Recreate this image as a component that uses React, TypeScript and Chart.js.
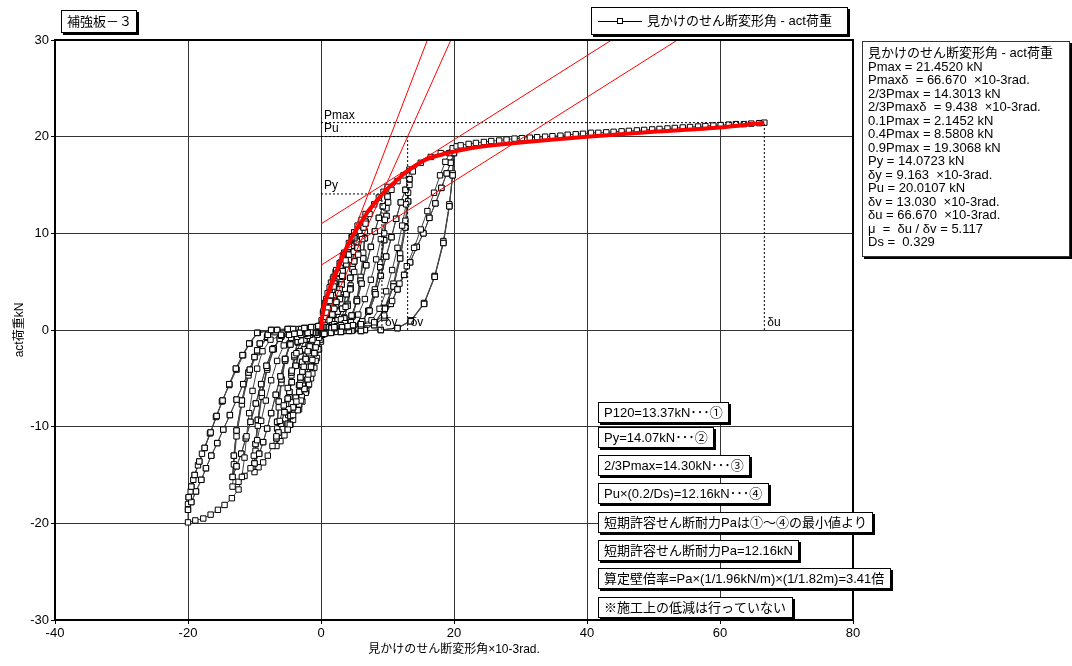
import React, { useEffect, useRef } from 'react';
import { Chart, registerables } from 'chart.js';

Chart.register(...registerables);

type Pt = [number, number];

// ---------- axes ----------
const X_MIN = -40;
const X_MAX = 80;
const X_STEP = 20;
const Y_MIN = -30;
const Y_MAX = 30;
const Y_STEP = 10;

// ---------- characteristic values ----------
const PMAX = 21.452;
const PU = 20.0107;
const PY = 14.0723;
const DELTA_Y = 9.163;
const DELTA_V = 13.03;
const DELTA_U = 66.67;

// ---------- hysteresis data (x: 10^-3 rad, y: kN) ----------
const cycle1: Pt[] = [[0,0],[0.15,1.0],[0.3,1.8],[0.6,2.8],[1.0,3.8],[1.5,4.9],[1.9,5.5],[2.2,6.0],[2.15,5.0],[2.0,3.6],[1.8,2.3],[1.5,1.2],[1.2,0.5],[0.9,0.1],[0.5,-0.1],[0.2,-0.5],[0.0,-1.2],[-0.3,-2.0],[-0.6,-2.9],[-1.0,-3.9],[-1.5,-5.0],[-1.9,-5.7],[-2.2,-6.3],[-2.15,-5.2],[-2.0,-3.8],[-1.8,-2.4],[-1.5,-1.3],[-1.2,-0.5],[-0.9,-0.1],[-0.5,0.1],[-0.2,0.4]];

const cycle2First: Pt[] = [[0.1,1.0],[0.4,2.0],[0.8,3.2],[1.3,4.4],[1.8,5.3],[2.3,6.2],[2.8,6.9],[3.3,7.7],[3.25,6.5],[3.1,5.0],[2.85,3.4],[2.5,2.0],[2.1,1.0],[1.7,0.3],[1.2,0.0],[0.7,-0.2],[0.2,-0.4],[-0.1,-1.0],[-0.4,-2.0],[-0.8,-3.2],[-1.3,-4.5],[-1.8,-5.6],[-2.3,-6.5],[-2.8,-7.4],[-3.3,-8.2],[-3.25,-6.9],[-3.1,-5.3],[-2.85,-3.6],[-2.5,-2.1],[-2.1,-1.0],[-1.7,-0.3],[-1.2,0.0],[-0.7,0.2],[-0.2,0.4]];
const cycle2Rep: Pt[] = [[0.2,0.6],[0.6,1.3],[1.0,2.3],[1.5,3.6],[2.0,4.8],[2.5,5.8],[2.9,6.6],[3.3,7.3],[3.25,6.1],[3.1,4.7],[2.85,3.2],[2.5,1.9],[2.1,0.9],[1.7,0.3],[1.2,0.0],[0.6,-0.2],[-0.2,-0.6],[-0.6,-1.3],[-1.0,-2.4],[-1.5,-3.8],[-2.0,-5.1],[-2.5,-6.1],[-2.9,-6.9],[-3.3,-7.7],[-3.25,-6.4],[-3.1,-4.9],[-2.85,-3.3],[-2.5,-2.0],[-2.1,-0.9],[-1.7,-0.3],[-1.2,0.0],[-0.6,0.2]];

const cycle3First: Pt[] = [[0.3,0.8],[0.8,1.8],[1.3,3.0],[1.9,4.5],[2.5,5.9],[3.0,7.0],[3.5,8.0],[4.2,9.0],[4.6,9.6],[5.0,10.1],[4.93,8.6],[4.75,6.7],[4.45,4.6],[4.0,2.7],[3.5,1.3],[2.9,0.4],[2.3,0.0],[1.6,-0.1],[0.8,-0.2],[0.1,-0.4],[-0.3,-0.8],[-0.8,-1.8],[-1.3,-3.1],[-1.9,-4.6],[-2.5,-6.1],[-3.0,-7.3],[-3.5,-8.3],[-4.2,-9.3],[-4.6,-9.8],[-5.0,-10.3],[-4.93,-8.8],[-4.75,-6.9],[-4.45,-4.7],[-4.0,-2.8],[-3.5,-1.3],[-2.9,-0.4],[-2.3,0.0],[-1.6,0.1],[-0.8,0.2],[-0.1,0.4]];
const cycle3Rep: Pt[] = [[0.5,0.4],[1.1,0.8],[1.7,1.6],[2.3,2.9],[2.8,4.2],[3.3,5.5],[3.8,6.8],[4.2,7.8],[4.6,8.7],[5.0,9.5],[4.93,8.1],[4.75,6.3],[4.45,4.3],[4.0,2.5],[3.5,1.2],[2.9,0.4],[2.3,0.0],[1.4,-0.1],[0.5,-0.3],[-0.5,-0.4],[-1.1,-0.8],[-1.7,-1.7],[-2.3,-3.0],[-2.8,-4.3],[-3.3,-5.7],[-3.8,-7.0],[-4.2,-8.0],[-4.6,-8.9],[-5.0,-9.7],[-4.93,-8.2],[-4.75,-6.4],[-4.45,-4.4],[-4.0,-2.6],[-3.5,-1.2],[-2.9,-0.4],[-2.3,0.0],[-1.4,0.1],[-0.5,0.3]];

const cycle4First: Pt[] = [[0.6,0.5],[1.3,1.0],[2.0,2.2],[2.6,3.8],[3.2,5.6],[3.7,7.2],[4.2,8.6],[4.7,9.6],[5.0,10.1],[5.5,10.8],[6.1,11.4],[6.7,12.0],[6.6,10.2],[6.35,8.0],[5.95,5.5],[5.4,3.2],[4.7,1.5],[3.9,0.5],[3.1,0.0],[2.1,-0.1],[1.0,-0.2],[0.1,-0.4],[-0.6,-0.5],[-1.3,-1.0],[-2.0,-2.2],[-2.6,-3.8],[-3.2,-5.7],[-3.7,-7.4],[-4.2,-8.8],[-4.7,-9.8],[-5.0,-10.3],[-5.5,-10.9],[-6.1,-11.5],[-6.7,-12.0],[-6.6,-10.2],[-6.35,-8.0],[-5.95,-5.5],[-5.4,-3.2],[-4.7,-1.5],[-3.9,-0.5],[-3.1,0.0],[-2.1,0.1],[-1.0,0.2],[-0.1,0.4]];
const cycle4Rep: Pt[] = [[0.8,0.3],[1.7,0.5],[2.5,1.0],[3.2,2.2],[3.8,3.7],[4.4,5.4],[5.0,7.1],[5.5,8.5],[6.0,9.7],[6.4,10.6],[6.7,11.2],[6.6,9.5],[6.35,7.4],[5.95,5.1],[5.4,3.0],[4.7,1.4],[3.9,0.4],[3.1,0.0],[1.9,-0.1],[0.6,-0.3],[-0.8,-0.3],[-1.7,-0.5],[-2.5,-1.0],[-3.2,-2.2],[-3.8,-3.7],[-4.4,-5.4],[-5.0,-7.1],[-5.5,-8.5],[-6.0,-9.7],[-6.4,-10.6],[-6.7,-11.2],[-6.6,-9.5],[-6.35,-7.4],[-5.95,-5.1],[-5.4,-3.0],[-4.7,-1.4],[-3.9,-0.4],[-3.1,0.0],[-1.9,0.1],[-0.6,0.3]];

const cycle5First: Pt[] = [[1.0,0.3],[2.0,0.6],[3.0,1.1],[3.7,2.4],[4.4,4.2],[5.0,6.0],[5.6,7.8],[6.2,9.4],[6.7,11.0],[7.3,12.0],[8.0,13.0],[8.7,13.7],[9.4,14.3],[10.0,14.8],[9.85,12.6],[9.5,10.0],[8.9,7.0],[8.1,4.2],[7.1,2.0],[6.0,0.7],[4.8,0.0],[3.4,-0.1],[1.8,-0.2],[0.3,-0.4],[-1.0,-0.3],[-2.0,-0.6],[-3.0,-1.1],[-3.7,-2.4],[-4.4,-4.2],[-5.0,-6.0],[-5.6,-7.8],[-6.2,-9.4],[-6.7,-11.0],[-7.3,-12.0],[-8.0,-13.0],[-8.7,-13.7],[-9.4,-14.2],[-10.0,-14.7],[-9.85,-12.5],[-9.5,-9.9],[-8.9,-6.9],[-8.1,-4.1],[-7.1,-2.0],[-6.0,-0.7],[-4.8,0.0],[-3.4,0.1],[-1.8,0.2],[-0.3,0.4]];
const cycle5Rep: Pt[] = [[1.2,0.3],[2.4,0.4],[3.6,0.7],[4.6,1.5],[5.4,3.0],[6.1,4.8],[6.8,6.7],[7.5,8.6],[8.1,10.2],[8.7,11.6],[9.3,12.8],[10.0,13.8],[9.85,11.8],[9.5,9.3],[8.9,6.5],[8.1,3.9],[7.1,1.9],[6.0,0.6],[4.8,0.0],[3.0,-0.1],[1.0,-0.3],[-1.2,-0.3],[-2.4,-0.4],[-3.6,-0.7],[-4.6,-1.5],[-5.4,-3.0],[-6.1,-4.8],[-6.8,-6.7],[-7.5,-8.6],[-8.1,-10.2],[-8.7,-11.6],[-9.3,-12.8],[-10.0,-13.8],[-9.85,-11.8],[-9.5,-9.3],[-8.9,-6.5],[-8.1,-3.9],[-7.1,-1.9],[-6.0,-0.6],[-4.8,0.0],[-3.0,0.1],[-1.0,0.3]];

const cycle6First: Pt[] = [[1.5,0.3],[3.0,0.5],[4.5,0.8],[5.6,1.6],[6.6,3.2],[7.5,5.2],[8.3,7.3],[9.0,9.4],[9.6,11.4],[10.1,13.2],[10.6,14.5],[11.5,15.4],[12.4,16.0],[13.3,16.6],[13.1,14.2],[12.7,11.3],[11.9,7.9],[10.9,4.8],[9.6,2.3],[8.1,0.8],[6.6,0.0],[4.6,-0.1],[2.4,-0.2],[0.4,-0.4],[-1.5,-0.3],[-3.0,-0.5],[-4.5,-0.8],[-5.6,-1.6],[-6.6,-3.2],[-7.5,-5.2],[-8.3,-7.3],[-9.0,-9.4],[-9.6,-11.4],[-10.1,-13.0],[-10.6,-14.3],[-11.5,-15.1],[-12.4,-15.7],[-13.3,-16.2],[-13.1,-13.9],[-12.7,-11.0],[-11.9,-7.7],[-10.9,-4.7],[-9.6,-2.3],[-8.1,-0.8],[-6.6,0.0],[-4.6,0.1],[-2.4,0.2],[-0.4,0.4]];
const cycle6Rep: Pt[] = [[1.6,0.2],[3.2,0.3],[4.8,0.5],[6.2,0.9],[7.3,2.0],[8.2,3.7],[9.0,5.6],[9.8,7.6],[10.6,9.6],[11.3,11.5],[12.0,13.2],[12.7,14.5],[13.3,15.6],[13.1,13.3],[12.7,10.6],[11.9,7.4],[10.9,4.5],[9.6,2.2],[8.1,0.7],[6.6,0.0],[4.2,-0.1],[1.5,-0.3],[-1.6,-0.2],[-3.2,-0.3],[-4.8,-0.5],[-6.2,-0.9],[-7.3,-2.0],[-8.2,-3.7],[-9.0,-5.6],[-9.8,-7.6],[-10.6,-9.5],[-11.3,-11.2],[-12.0,-12.8],[-12.7,-14.1],[-13.3,-15.2],[-13.1,-13.0],[-12.7,-10.4],[-11.9,-7.3],[-10.9,-4.4],[-9.6,-2.1],[-8.1,-0.7],[-6.6,0.0],[-4.2,0.1],[-1.5,0.3]];

const cycle7First: Pt[] = [[2.0,0.3],[4.0,0.4],[6.0,0.6],[7.6,1.0],[8.8,2.2],[9.8,4.0],[10.7,6.2],[11.5,8.5],[12.2,10.8],[12.8,13.0],[13.3,15.0],[13.8,16.4],[15.0,17.3],[16.5,17.9],[18.0,18.3],[20.0,18.8],[19.8,16.2],[19.3,13.0],[18.4,9.2],[17.1,5.6],[15.5,2.8],[13.5,1.0],[11.5,0.2],[9.0,0.0],[6.0,-0.1],[3.0,-0.2],[0.5,-0.4],[-2.0,-0.3],[-4.0,-0.4],[-6.0,-0.6],[-7.6,-1.0],[-8.8,-2.2],[-9.6,-4.0],[-10.3,-6.3],[-10.8,-8.6],[-11.2,-11.0],[-11.5,-13.2],[-11.9,-15.2],[-12.4,-16.5],[-13.4,-17.4],[-14.5,-18.1],[-15.5,-18.6],[-16.6,-19.1],[-17.7,-19.5],[-18.9,-19.7],[-20.0,-19.9],[-20.0,-18.0],[-19.6,-16.7],[-19.2,-15.5],[-18.5,-14.0],[-17.9,-12.8],[-16.7,-10.7],[-15.8,-9.0],[-14.9,-7.4],[-13.8,-5.7],[-12.7,-4.1],[-11.7,-2.6],[-10.7,-1.4],[-9.5,-0.3],[-7.5,0.0],[-5.0,0.1],[-2.5,0.2],[-0.4,0.4]];
const cycle7Rep: Pt[] = [[2.0,0.2],[4.0,0.3],[6.0,0.4],[8.0,0.5],[9.5,1.3],[10.5,2.7],[11.5,4.2],[12.5,5.7],[13.4,7.0],[14.4,8.6],[15.4,10.0],[16.3,11.6],[17.2,13.1],[18.1,14.7],[18.9,16.2],[19.5,17.3],[20.0,18.3],[19.8,16.0],[19.3,12.8],[18.4,9.0],[17.1,5.5],[15.5,2.7],[13.5,0.9],[11.5,0.2],[9.0,0.0],[6.0,-0.1],[3.0,-0.2],[0.5,-0.4],[-2.0,-0.3],[-4.0,-0.4],[-6.0,-0.5],[-8.0,-0.5],[-9.2,-1.4],[-10.0,-2.8],[-10.7,-4.1],[-11.7,-5.6],[-12.7,-7.2],[-13.7,-8.8],[-14.7,-10.3],[-15.6,-11.7],[-16.5,-13.0],[-17.3,-14.3],[-18.0,-15.5],[-18.8,-16.7],[-19.5,-17.8],[-20.0,-18.6],[-19.9,-17.3],[-19.5,-16.2],[-19.0,-15.0],[-18.3,-13.6],[-17.5,-12.2],[-16.6,-10.6],[-15.7,-8.9],[-14.8,-7.3],[-13.8,-5.6],[-12.8,-4.0],[-11.8,-2.6],[-10.8,-1.4],[-9.6,-0.3],[-7.5,0.0],[-5.0,0.1],[-2.5,0.2],[-0.4,0.4]];

const finalPush: Pt[] = [[2.0,0.3],[4.0,0.4],[6.0,0.6],[8.0,0.8],[9.5,1.5],[10.7,3.0],[11.8,4.8],[12.9,6.6],[14.0,8.5],[15.0,10.4],[16.0,12.3],[17.0,14.2],[17.9,16.0],[18.7,17.4],[19.3,18.3],[19.8,18.8],[20.4,19.0],[21.0,19.1],[22.2,19.25],[23.3,19.35],[24.5,19.45],[25.6,19.55],[26.8,19.6],[27.9,19.7],[29.1,19.8],[30.2,19.85],[31.4,19.9],[32.5,19.95],[33.7,20.0],[34.8,20.05],[36.0,20.1],[37.1,20.2],[38.3,20.25],[39.4,20.3],[40.6,20.4],[41.7,20.4],[42.9,20.45],[44.0,20.5],[45.2,20.55],[46.3,20.6],[47.5,20.65],[48.6,20.7],[49.8,20.75],[50.9,20.8],[52.1,20.85],[53.2,20.9],[54.4,20.95],[55.5,21.0],[56.7,21.05],[57.8,21.1],[59.0,21.15],[60.1,21.2],[61.3,21.25],[62.4,21.3],[63.6,21.3],[64.7,21.35],[65.9,21.4],[66.67,21.45]];

const CYCLE_SEQUENCE: Pt[][] = [
  cycle1,
  cycle2First, cycle2Rep, cycle2Rep,
  cycle3First, cycle3Rep, cycle3Rep,
  cycle4First, cycle4Rep, cycle4Rep,
  cycle5First, cycle5Rep, cycle5Rep,
  cycle6First, cycle6Rep, cycle6Rep,
  cycle7First, cycle7Rep, cycle7Rep,
  finalPush,
];

// evaluated envelope (red thick curve)
const envelope: Pt[] = [[0,0],[0.1,1.0],[0.3,1.8],[0.6,2.9],[1.1,3.9],[1.8,5.3],[2.4,6.2],[3.2,7.6],[3.9,8.6],[4.8,9.8],[5.9,11.0],[7.0,12.2],[8.4,13.4],[9.8,14.5],[11.4,15.5],[12.9,16.4],[14.4,17.1],[16.0,17.7],[17.9,18.1],[20.9,18.6],[23.9,18.95],[30.0,19.4],[40.0,20.0],[50.0,20.5],[60.0,20.95],[66.67,21.45]];

// analysis lines (thin red)
const line1: Pt[] = [[0,1.36],[16.0,30]];            // 0.1Pmax-0.4Pmax
const lineK: Pt[] = [[0,0],[19.53,30]];              // initial stiffness (origin - Py)
const line2: Pt[] = [[0,6.7],[53.6,30]];             // 0.4Pmax-0.9Pmax
const line3: Pt[] = [[0,10.98],[43.7,30]];           // tangent parallel to line2

// ---------- texts ----------
const TITLE_TEXT = '補強板－３';
const SERIES_NAME = '見かけのせん断変形角 - act荷重';
const X_TITLE = '見かけのせん断変形角×10-3rad.';
const Y_TITLE = 'act荷重kN';
const INFO_LINES = [
  '見かけのせん断変形角 - act荷重',
  'Pmax = 21.4520 kN',
  'Pmaxδ  = 66.670  ×10-3rad.',
  '2/3Pmax = 14.3013 kN',
  '2/3Pmaxδ  = 9.438  ×10-3rad.',
  '0.1Pmax = 2.1452 kN',
  '0.4Pmax = 8.5808 kN',
  '0.9Pmax = 19.3068 kN',
  'Py = 14.0723 kN',
  'δy = 9.163  ×10-3rad.',
  'Pu = 20.0107 kN',
  'δv = 13.030  ×10-3rad.',
  'δu = 66.670  ×10-3rad.',
  'μ  =  δu / δv = 5.117',
  'Ds =  0.329',
];
const NOTE_LINES = [
  'P120=13.37kN･･･①',
  'Py=14.07kN･･･②',
  '2/3Pmax=14.30kN･･･③',
  'Pu×(0.2/Ds)=12.16kN･･･④',
  '短期許容せん断耐力Paは①～④の最小値より',
  '短期許容せん断耐力Pa=12.16kN',
  '算定壁倍率=Pa×(1/1.96kN/m)×(1/1.82m)=3.41倍',
  '※施工上の低減は行っていない',
];

// ---------- layout / style ----------
const W = 1072;
const H = 666;
const FONT = "'Liberation Sans', 'Noto Sans CJK JP', sans-serif";
const NOTE_LEFT = 598;
const NOTE_TOPS = [402, 427, 455, 483, 512, 540, 568, 597];
const NOTE_H = 21;

const toXY = (pts: Pt[]) => pts.map(([x, y]) => ({ x, y }));

function shadowBox(ctx: CanvasRenderingContext2D, x: number, y: number, w: number, h: number, sh = 2) {
  ctx.fillStyle = '#000';
  ctx.fillRect(x + sh, y + sh, w, h);
  ctx.fillStyle = '#fff';
  ctx.fillRect(x, y, w, h);
  ctx.strokeStyle = '#000';
  ctx.lineWidth = 1;
  ctx.strokeRect(x + 0.5, y + 0.5, w - 1, h - 1);
}

const overlayPlugin = {
  id: 'overlay',
  afterDraw(chart: any) {
    const { ctx, chartArea: a, scales } = chart;
    const xs = scales.x;
    const ys = scales.y;
    ctx.save();

    // plot border
    ctx.strokeStyle = '#000';
    ctx.lineWidth = 2;
    ctx.strokeRect(a.left, a.top, a.right - a.left, a.bottom - a.top);

    // characteristic labels
    ctx.fillStyle = '#000';
    ctx.font = `12px ${FONT}`;
    ctx.textAlign = 'left';
    ctx.textBaseline = 'bottom';
    const x0 = xs.getPixelForValue(0);
    ctx.fillText('Pmax', x0 + 3, ys.getPixelForValue(PMAX) - 1);
    ctx.fillText('Pu', x0 + 3, ys.getPixelForValue(PU) - 2);
    ctx.fillText('Py', x0 + 3, ys.getPixelForValue(PY) - 2);
    const yb = ys.getPixelForValue(0) - 1;
    ctx.fillText('δy', xs.getPixelForValue(DELTA_Y) + 3, yb);
    ctx.fillText('δv', xs.getPixelForValue(DELTA_V) + 3, yb);
    ctx.fillText('δu', xs.getPixelForValue(DELTA_U) + 3, yb);

    // axis titles
    ctx.font = `12px ${FONT}`;
    ctx.textAlign = 'center';
    ctx.textBaseline = 'middle';
    ctx.fillText(X_TITLE, (a.left + a.right) / 2, 650);
    ctx.save();
    ctx.translate(20, (a.top + a.bottom) / 2);
    ctx.rotate(-Math.PI / 2);
    ctx.fillText(Y_TITLE, 0, 0);
    ctx.restore();

    // title box
    ctx.font = `13px ${FONT}`;
    ctx.textAlign = 'left';
    shadowBox(ctx, 61, 10, 76, 23, 2);
    ctx.fillStyle = '#000';
    ctx.fillText(TITLE_TEXT, 67, 22);

    // legend box
    shadowBox(ctx, 591, 7, 257, 28, 2);
    ctx.strokeStyle = '#000';
    ctx.lineWidth = 1;
    ctx.beginPath();
    ctx.moveTo(598, 21.5);
    ctx.lineTo(642, 21.5);
    ctx.stroke();
    ctx.fillStyle = '#fff';
    ctx.fillRect(617.5, 18.5, 5, 5);
    ctx.strokeRect(617.5, 18.5, 5, 5);
    ctx.fillStyle = '#000';
    ctx.fillText(SERIES_NAME, 647, 21);

    // info box
    ctx.fillStyle = '#000';
    ctx.fillRect(864, 43, 208, 216);
    ctx.fillStyle = '#fff';
    ctx.fillRect(862, 41, 208, 216);
    ctx.strokeStyle = '#333';
    ctx.strokeRect(862.5, 41.5, 207, 215);
    ctx.fillStyle = '#000';
    INFO_LINES.forEach((t, i) => ctx.fillText(t, 868, 53.5 + i * 13.5));

    // note boxes
    ctx.font = `13px ${FONT}`;
    NOTE_LINES.forEach((t, i) => {
      const w = Math.ceil(ctx.measureText(t).width) + 12;
      const top = NOTE_TOPS[i];
      shadowBox(ctx, NOTE_LEFT, top, w, NOTE_H, 2);
      ctx.fillStyle = '#000';
      ctx.fillText(t, NOTE_LEFT + 6, top + NOTE_H / 2 + 0.5);
    });

    ctx.restore();
  },
};

export default function App() {
  const ref = useRef<HTMLCanvasElement | null>(null);

  useEffect(() => {
    if (!ref.current) return;
    const hysteresis: Pt[] = ([] as Pt[]).concat(...CYCLE_SEQUENCE);
    const dotted = (pts: Pt[]) => ({
      data: toXY(pts),
      showLine: true,
      borderColor: '#000',
      borderWidth: 1,
      borderDash: [2, 2],
      pointRadius: 0,
    });
    const redThin = (pts: Pt[]) => ({
      data: toXY(pts),
      showLine: true,
      borderColor: '#ff0000',
      borderWidth: 1,
      pointRadius: 0,
    });

    const chart = new Chart(ref.current, {
      type: 'scatter',
      data: {
        datasets: [
          {
            data: toXY(envelope),
            showLine: true,
            borderColor: '#ff0000',
            borderWidth: 4,
            pointRadius: 0,
            tension: 0.3,
          },
          redThin(line1),
          redThin(lineK),
          redThin(line2),
          redThin(line3),
          dotted([[0, PMAX], [DELTA_U, PMAX]]),
          dotted([[0, PU], [DELTA_V, PU]]),
          dotted([[0, PY], [DELTA_Y, PY]]),
          dotted([[DELTA_Y, 0], [DELTA_Y, PY]]),
          dotted([[DELTA_V, 0], [DELTA_V, PU]]),
          dotted([[DELTA_U, 0], [DELTA_U, PMAX]]),
          {
            label: SERIES_NAME,
            data: toXY(hysteresis),
            showLine: true,
            borderColor: '#444',
            borderWidth: 1,
            pointStyle: 'rect',
            pointRadius: 3.8,
            pointBorderWidth: 1,
            pointBorderColor: '#000',
            pointBackgroundColor: '#fff',
          },
        ],
      },
      options: {
        animation: false,
        responsive: false,
        events: [],
        layout: { padding: { top: 40, right: W - 853, bottom: 0, left: 0 } },
        plugins: {
          legend: { display: false },
          tooltip: { enabled: false },
          title: { display: false },
        },
        scales: {
          x: {
            type: 'linear',
            min: X_MIN,
            max: X_MAX,
            afterFit: (s: any) => { s.height = 46; },
            ticks: { stepSize: X_STEP, color: '#000', font: { family: FONT, size: 13 }, padding: 2, maxRotation: 0 },
            grid: { color: '#333', lineWidth: 1, tickLength: 4, tickColor: '#000' },
            border: { display: false },
          },
          y: {
            type: 'linear',
            min: Y_MIN,
            max: Y_MAX,
            afterFit: (s: any) => { s.width = 55; },
            ticks: { stepSize: Y_STEP, color: '#000', font: { family: FONT, size: 13 }, padding: 2 },
            grid: { color: '#333', lineWidth: 1, tickLength: 4, tickColor: '#000' },
            border: { display: false },
          },
        },
      },
      plugins: [overlayPlugin],
    });
    return () => chart.destroy();
  }, []);

  return (
    <div style={{ position: 'fixed', left: 0, top: 0, width: W, height: H, background: '#fff' }}>
      <canvas ref={ref} width={W} height={H} style={{ width: W, height: H }} />
    </div>
  );
}
